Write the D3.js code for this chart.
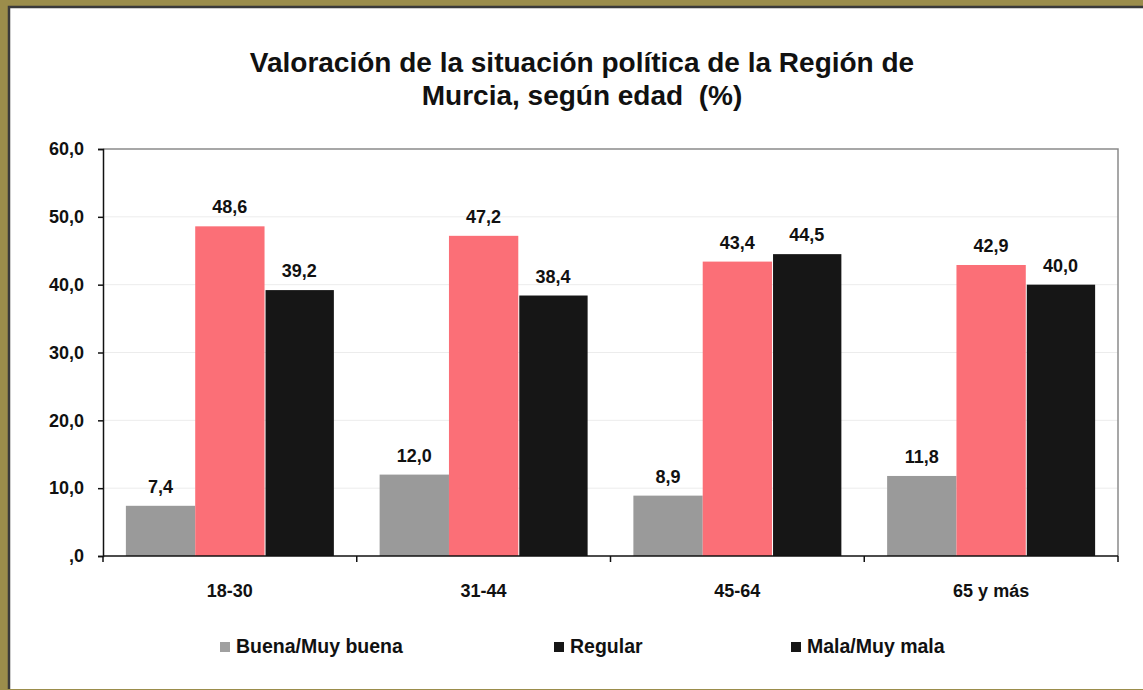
<!DOCTYPE html>
<html>
<head>
<meta charset="utf-8">
<script src="https://cdn.jsdelivr.net/npm/d3@7/dist/d3.min.js"></script>
<style>
  html, body { margin: 0; padding: 0; background: #9b8d4b; }
  svg { display: block; }
  text { font-family: "Liberation Sans", Arial, sans-serif; font-weight: bold; fill: #111; }
</style>
</head>
<body>
<script>
// chart data
const categories = ['18-30', '31-44', '45-64', '65 y más'];
const seriesNames = ['Buena/Muy buena', 'Regular', 'Mala/Muy mala'];
const buena = [7.4, 12.0, 8.9, 11.8];
const regular = [48.6, 47.2, 43.4, 42.9];
const mala = [39.2, 38.4, 44.5, 40.0];
const yTicks = [0, 10, 20, 30, 40, 50, 60];
const titleLines = ['Valoración de la situación política de la Región de', 'Murcia, según edad  (%)'];

const seriesValues = [buena, regular, mala];
const barColors = ['#9a9a9a', '#fb6f77', '#161616'];
// legend in the original shows black for "Regular"
const legendColors = ['#a0a0a0', '#161616', '#161616'];

const W = 1143, H = 690;
const plot = { left: 103, right: 1118, top: 149, bottom: 556 };

const fmt = v => (v === 0 ? ',0' : v.toFixed(1).replace('.', ','));

const svg = d3.select('body').append('svg')
    .attr('width', W)
    .attr('height', H);

// olive frame + white panel
svg.append('rect')
    .attr('x', 0).attr('y', 0).attr('width', W).attr('height', H)
    .attr('fill', '#9b8d4b');
svg.append('rect')
    .attr('x', 9).attr('y', 7).attr('width', W - 9).attr('height', H - 8)
    .attr('fill', '#fff');
svg.append('path')
    .attr('d', `M9,${H - 1} V7 H${W}`)
    .attr('fill', 'none')
    .attr('stroke', '#3a3a3a')
    .attr('stroke-width', 2.5);

// title
svg.append('text')
    .attr('x', 582)
    .attr('text-anchor', 'middle')
    .attr('font-size', '28px')
    .style('white-space', 'pre')
    .selectAll('tspan')
    .data(titleLines)
    .join('tspan')
    .attr('x', 582)
    .attr('y', (d, i) => 72 + i * 33)
    .text(d => d);

// scales
const x0 = d3.scaleBand()
    .domain(categories)
    .range([plot.left, plot.right]);
const x1 = d3.scaleBand()
    .domain(seriesNames)
    .range([0, x0.bandwidth()])
    .paddingOuter(0.33);
const y = d3.scaleLinear()
    .domain([0, 60])
    .range([plot.bottom, plot.top]);

// faint gridlines
svg.append('g')
    .selectAll('line')
    .data(yTicks.filter(d => d > 0 && d < 60))
    .join('line')
    .attr('x1', plot.left).attr('x2', plot.right)
    .attr('y1', d => y(d)).attr('y2', d => y(d))
    .attr('stroke', '#ececec')
    .attr('stroke-width', 1);

// plot area border (top + right)
svg.append('path')
    .attr('d', `M${plot.left},${plot.top} H${plot.right} V${plot.bottom}`)
    .attr('fill', 'none')
    .attr('stroke', '#8a8a8a')
    .attr('stroke-width', 1.5);

// bars
const groups = svg.append('g')
    .selectAll('g')
    .data(categories)
    .join('g')
    .attr('transform', d => `translate(${x0(d)},0)`);

groups.selectAll('rect')
    .data((d, i) => seriesNames.map((s, j) => ({ s, j, v: seriesValues[j][i] })))
    .join('rect')
    .attr('x', d => x1(d.s) + (d.j === 2 ? 1 : 0))
    .attr('width', d => x1.bandwidth() - (d.j === 2 ? 1 : 0))
    .attr('y', d => y(d.v))
    .attr('height', d => y(0) - y(d.v))
    .attr('fill', d => barColors[d.j]);

// value labels
groups.selectAll('text.val')
    .data((d, i) => seriesNames.map((s, j) => ({ s, j, v: seriesValues[j][i] })))
    .join('text')
    .attr('class', 'val')
    .attr('x', d => x1(d.s) + x1.bandwidth() / 2)
    .attr('y', d => y(d.v) - 13)
    .attr('text-anchor', 'middle')
    .attr('font-size', '18px')
    .text(d => fmt(d.v));

// y axis
const yAxis = svg.append('g')
    .attr('transform', `translate(${plot.left},0)`)
    .call(d3.axisLeft(y).tickValues(yTicks).tickFormat(fmt).tickSize(5).tickPadding(14));
yAxis.select('.domain').attr('stroke', '#111').attr('stroke-width', 1.5);
yAxis.selectAll('.tick line').attr('stroke', '#111').attr('stroke-width', 1.5);
yAxis.selectAll('.tick text')
    .attr('font-size', '18px')
    .attr('font-family', '"Liberation Sans", Arial, sans-serif')
    .attr('fill', '#111');

// x axis with ticks at category boundaries
const xAxis = svg.append('g')
    .attr('transform', `translate(0,${plot.bottom})`);
xAxis.append('line')
    .attr('x1', plot.left).attr('x2', plot.right)
    .attr('stroke', '#111').attr('stroke-width', 1.5);
xAxis.selectAll('line.tk')
    .data(categories.map(c => x0(c)).concat([plot.right]))
    .join('line')
    .attr('class', 'tk')
    .attr('x1', d => d).attr('x2', d => d)
    .attr('y1', 0).attr('y2', 6)
    .attr('stroke', '#111').attr('stroke-width', 1.5);
xAxis.selectAll('text')
    .data(categories)
    .join('text')
    .attr('x', d => x0(d) + x0.bandwidth() / 2)
    .attr('y', 41)
    .attr('text-anchor', 'middle')
    .attr('font-size', '18px')
    .text(d => d);

// legend
const legendX = [220, 554, 791];
const legend = svg.append('g')
    .selectAll('g')
    .data(seriesNames)
    .join('g')
    .attr('transform', (d, i) => `translate(${legendX[i]},653)`);
legend.append('rect')
    .attr('x', 0).attr('y', -11)
    .attr('width', 10).attr('height', 10)
    .attr('fill', (d, i) => legendColors[i]);
legend.append('text')
    .attr('x', 16)
    .attr('y', 0)
    .attr('font-size', '19.5px')
    .text(d => d);
</script>
</body>
</html>
